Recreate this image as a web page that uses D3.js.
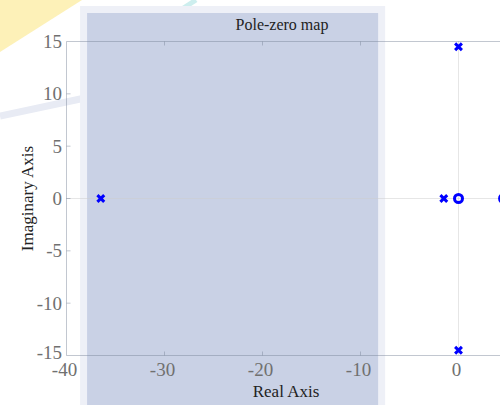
<!DOCTYPE html>
<html><head><meta charset="utf-8">
<script src="https://cdn.jsdelivr.net/npm/d3@7"></script>
<style>html,body{margin:0;padding:0;background:#fff;}svg{display:block;}</style>
</head><body>
<script>
const title = "Pole-zero map";
const xLabel = "Real Axis";
const yLabel = "Imaginary Axis";
const xTicks = [-40, -30, -20, -10, 0];
const yTicks = [-15, -10, -5, 0, 5, 10, 15];
const polesRe = [-36.5, -1.5, 0, 0];
const polesIm = [0, 0, 14.5, -14.5];
const zerosRe = [0, 4.6];
const zerosIm = [0, 0];
const shadeRange = [-37.9, -8.2];

const W = 500, H = 405;
const svg = d3.select("body").append("svg").attr("width", W).attr("height", H);
const x = d3.scaleLinear().domain([-40, 5]).range([66.5, 507.5]);
const y = d3.scaleLinear().domain([-15, 15]).range([355.5, 41.5]);
const font = "'Liberation Serif', 'Times New Roman', serif";

// background artifacts
svg.append("polygon").attr("points", "0,0 82,0 0,52").attr("fill", "#fdf1b8");
svg.append("line").attr("x1", 196).attr("y1", 0).attr("x2", 100).attr("y2", 62)
  .attr("stroke", "#cdeeee").attr("stroke-width", 5);
svg.append("line").attr("x1", 0).attr("y1", 116).attr("x2", 85).attr("y2", 98)
  .attr("stroke", "#e8ebf4").attr("stroke-width", 7);

// shaded region
svg.append("rect").attr("x", x(shadeRange[0]) - 7).attr("y", 6)
  .attr("width", x(shadeRange[1]) - x(shadeRange[0]) + 14).attr("height", H)
  .attr("fill", "#eef0f7");
svg.append("rect").attr("x", x(shadeRange[0])).attr("y", 13)
  .attr("width", x(shadeRange[1]) - x(shadeRange[0])).attr("height", H)
  .attr("fill", "#c9d1e5");

// grid lines (dotted) at zero
svg.append("line").attr("x1", x(0)).attr("x2", x(0)).attr("y1", y(15)).attr("y2", y(-15))
  .attr("stroke", "#cccccc").attr("stroke-dasharray", "1,1");
svg.append("line").attr("x1", x(-40)).attr("x2", W).attr("y1", y(0)).attr("y2", y(0))
  .attr("stroke", "#cccccc").attr("stroke-dasharray", "1,1");

// frame lines
const axisCol = "rgba(120,130,150,0.45)";
svg.append("line").attr("x1", x(-40)).attr("x2", W).attr("y1", y(15)).attr("y2", y(15)).attr("stroke", axisCol);
svg.append("line").attr("x1", x(-40)).attr("x2", W).attr("y1", y(-15)).attr("y2", y(-15)).attr("stroke", axisCol);
svg.append("line").attr("x1", x(-40)).attr("x2", x(-40)).attr("y1", y(15)).attr("y2", y(-15)).attr("stroke", axisCol);

// ticks
xTicks.filter(t => t > -40 && t < 0).forEach(t => {
  svg.append("line").attr("x1", x(t)).attr("x2", x(t)).attr("y1", y(15)).attr("y2", y(15) + 4).attr("stroke", axisCol);
  svg.append("line").attr("x1", x(t)).attr("x2", x(t)).attr("y1", y(-15)).attr("y2", y(-15) - 4).attr("stroke", axisCol);
});
yTicks.filter(t => t > -15 && t < 15).forEach(t => {
  svg.append("line").attr("x1", x(-40)).attr("x2", x(-40) + 4).attr("y1", y(t)).attr("y2", y(t)).attr("stroke", axisCol);
});

// tick labels
svg.selectAll("text.xt").data(xTicks).enter().append("text")
  .attr("x", d => x(d) - 2).attr("y", 376).attr("text-anchor", "middle")
  .attr("font-family", font).attr("font-size", 19).attr("fill", "#707070").text(d => d);
svg.selectAll("text.yt").data(yTicks).enter().append("text")
  .attr("x", 62).attr("y", d => y(d) - (d === -15 ? 3 : 0)).attr("dy", "0.35em").attr("text-anchor", "end")
  .attr("font-family", font).attr("font-size", 19).attr("fill", "#707070").text(d => d);

// title and axis labels
svg.append("text").attr("x", 282).attr("y", 30).attr("text-anchor", "middle")
  .attr("font-family", font).attr("font-size", 16).attr("fill", "#222").text(title);
svg.append("text").attr("x", 286).attr("y", 397).attr("text-anchor", "middle")
  .attr("font-family", font).attr("font-size", 17).attr("fill", "#222").text(xLabel);
svg.append("text").attr("transform", `translate(33,${y(0)}) rotate(-90)`).attr("text-anchor", "middle")
  .attr("font-family", font).attr("font-size", 17).attr("fill", "#222").text(yLabel);

// poles (x markers)
const poles = polesRe.map((r, i) => ({re: r, im: polesIm[i]}));
const s = 3.4;
poles.forEach(p => {
  const cx = x(p.re), cy = y(p.im);
  svg.append("path")
    .attr("d", `M${cx - s},${cy - s}L${cx + s},${cy + s}M${cx - s},${cy + s}L${cx + s},${cy - s}`)
    .attr("stroke", "#0000ff").attr("stroke-width", 3).attr("fill", "none");
});
// zeros (circles)
const zeros = zerosRe.map((r, i) => ({re: r, im: zerosIm[i]}));
svg.selectAll("circle.z").data(zeros).enter().append("circle")
  .attr("cx", d => x(d.re)).attr("cy", d => y(d.im)).attr("r", 4)
  .attr("fill", "none").attr("stroke", "#0000ff").attr("stroke-width", 3);
</script>
</body></html>
